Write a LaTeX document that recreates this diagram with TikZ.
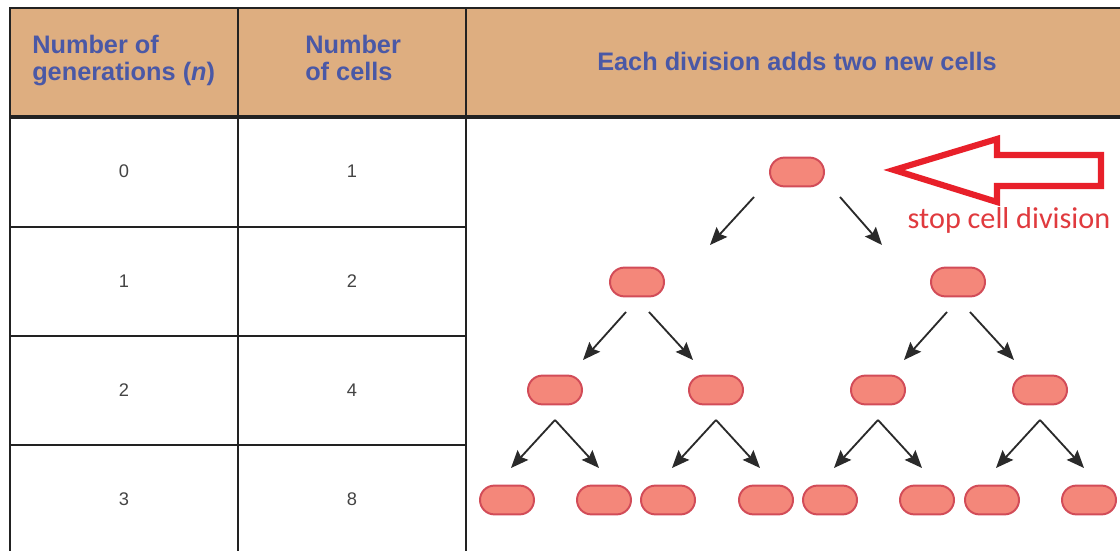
\documentclass[tikz,border=0pt]{standalone}
\usepackage{fontspec}
\setmainfont{Liberation Sans}
\newfontfamily\calfont{Carlito}
\usetikzlibrary{arrows.meta}
\definecolor{hdrfill}{HTML}{DEAE80}
\definecolor{hdrtext}{HTML}{4A58A6}
\definecolor{cellfill}{HTML}{F4877A}
\definecolor{celledge}{HTML}{D24C58}
\definecolor{arrgray}{HTML}{2A2A2A}
\definecolor{stopred}{HTML}{E8202A}
\definecolor{stoptext}{HTML}{E03A3E}
\definecolor{digitgray}{HTML}{444444}
\definecolor{gridline}{HTML}{222222}
\begin{document}
\begin{tikzpicture}[x=0.025cm,y=-0.025cm,
 hdr/.style={inner sep=0pt, text=hdrtext, font=\fontsize{18}{19}\selectfont\bfseries, align=left, anchor=north west},
 digit/.style={text=digitgray, font=\fontsize{13}{15}\selectfont, inner sep=0pt},
 cell/.style={draw=celledge, fill=cellfill, line width=1.4pt, minimum width=1.35cm, minimum height=0.72cm, rounded corners=0.36cm, inner sep=0pt},
 arr/.style={draw=arrgray, line width=1.3pt, -{Stealth[length=4.4mm,width=3.6mm,inset=0.7mm]}},
 gridln/.style={line width=1.4pt, draw=gridline},
 bigarrow/.style={draw=stopred, line width=4.4pt, line join=miter}
]
\useasboundingbox (0,0) rectangle (1120,551);
\fill[white] (0,0) rectangle (1120,551);
% header band
\fill[hdrfill] (10,8) rectangle (1120,117);
\draw[gridln] (10,551) -- (10,8) -- (1120,8);
\draw[gridln] (238,8) -- (238,551);
\draw[gridln] (466,8) -- (466,551);
\draw[gridln, line width=2.2pt] (10,117) -- (1120,117);
\foreach \y in {227,336,445} \draw[gridln] (10,\y) -- (466,\y);
% header texts
\node[hdr] (h1) at (32,35) {Number of\\generations (\textit{n})};
\node[hdr] (h2) at (305,35) {Number\\of cells};
\node[hdr, anchor=center, align=center] (h3) at (797,61) {Each division adds two new cells};
% table values
\node[digit] (n0) at (124,171) {0};
\node[digit] (n1) at (124,281) {1};
\node[digit] (n2) at (124,390) {2};
\node[digit] (n3) at (124,499) {3};
\node[digit] (m0) at (352,171) {1};
\node[digit] (m1) at (352,281) {2};
\node[digit] (m2) at (352,390) {4};
\node[digit] (m3) at (352,499) {8};
% cells
\node[cell] (c0) at (797,172) {};
\node[cell] (c1a) at (637,282) {};
\node[cell] (c1b) at (958,282) {};
\node[cell] (c2a) at (555,390) {};
\node[cell] (c2b) at (716,390) {};
\node[cell] (c2c) at (878,390) {};
\node[cell] (c2d) at (1040,390) {};
\node[cell] (c3a) at (507,500) {};
\node[cell] (c3b) at (604,500) {};
\node[cell] (c3c) at (668,500) {};
\node[cell] (c3d) at (766,500) {};
\node[cell] (c3e) at (830,500) {};
\node[cell] (c3f) at (927,500) {};
\node[cell] (c3g) at (992,500) {};
\node[cell] (c3h) at (1089,500) {};
% arrows generation 0 -> 1
\draw[arr] ([shift={(-43,25)}]c0.center) -- ([shift={(-87,73)}]c0.center);
\draw[arr] ([shift={(43,25)}]c0.center) -- ([shift={(85,73)}]c0.center);
% arrows generation 1 -> 2
\foreach \p in {c1a,c1b}{
  \draw[arr] ([shift={(-11,30)}]\p.center) -- ([shift={(-54,78)}]\p.center);
  \draw[arr] ([shift={(12,30)}]\p.center) -- ([shift={(56,78)}]\p.center);
}
% arrows generation 2 -> 3
\foreach \p in {c2a,c2b,c2c,c2d}{
  \coordinate (\p-apex) at ([shift={(0,30)}]\p.center);
  \draw[arr] (\p-apex) -- ([shift={(-44,78)}]\p.center);
  \draw[arr] (\p-apex) -- ([shift={(44,78)}]\p.center);
}
% red hollow arrow
\coordinate (tip) at (894,170);
\draw[bigarrow] (tip) -- (997,139) -- (997,155) -- (1101,155) -- (1101,186) -- (997,186) -- (997,202) -- cycle;
\node[text=stoptext, font=\calfont\fontsize{21.5}{24}\selectfont, inner sep=0pt] (stop) at (1009,220) {stop cell division};
\end{tikzpicture}
\end{document}
